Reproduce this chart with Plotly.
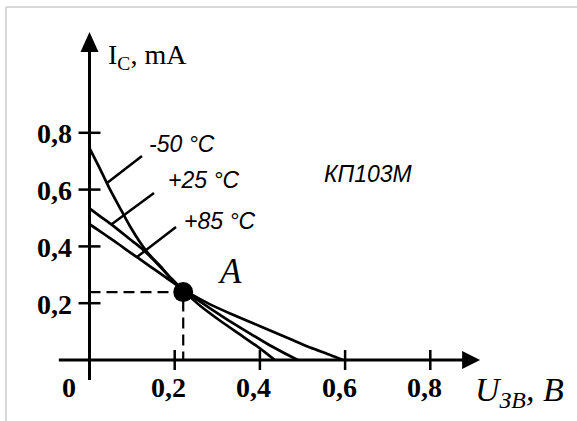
import plotly.graph_objects as go

# ---------------- data ----------------
# Transfer characteristics I_C(U_ZB) of KP103M at three temperatures
u_m50 = [0.0, 0.025, 0.048, 0.072, 0.095, 0.119, 0.142, 0.166, 0.189, 0.219, 0.259, 0.306, 0.353, 0.400, 0.435]
i_m50 = [0.746, 0.672, 0.601, 0.534, 0.471, 0.414, 0.368, 0.331, 0.291, 0.246, 0.192, 0.139, 0.090, 0.041, 0.0]

u_p25 = [0.0, 0.025, 0.048, 0.072, 0.095, 0.119, 0.142, 0.166, 0.189, 0.219, 0.248, 0.283, 0.330, 0.377, 0.424, 0.459, 0.489]
i_p25 = [0.534, 0.506, 0.481, 0.453, 0.425, 0.397, 0.365, 0.328, 0.292, 0.247, 0.217, 0.182, 0.136, 0.093, 0.051, 0.023, 0.0]

u_p85 = [0.0, 0.025, 0.048, 0.072, 0.095, 0.119, 0.142, 0.166, 0.189, 0.219, 0.248, 0.283, 0.330, 0.377, 0.424, 0.471, 0.518, 0.565, 0.595]
i_p85 = [0.478, 0.453, 0.429, 0.404, 0.379, 0.354, 0.330, 0.305, 0.280, 0.249, 0.224, 0.196, 0.164, 0.134, 0.104, 0.074, 0.044, 0.018, 0.0]

series_names = ["-50 °C", "+25 °C", "+85 °C"]

# thermostable point A
a_u = [0.220]
a_i = [0.239]

# axes ticks / labels
x_ticks = [0.2, 0.4, 0.6, 0.8]
x_tick_labels = ["0,2", "0,4", "0,6", "0,8"]
y_ticks = [0.2, 0.4, 0.6, 0.8]
y_tick_labels = ["0,2", "0,4", "0,6", "0,8"]
origin_label = "0"

# drawn axis extents (data units)
x_axis_span = [-0.072, 0.917]
y_axis_span = [-0.07, 1.155]

# ---------------- figure ----------------
W, H = 577, 421
ML, MR, MT, MB = 5, 22, 10, 11
PW, PH = W - ML - MR, H - MT - MB
SX, SY = 426.0, 284.0           # pixels per data unit
X0 = -(89.5 - ML) / SX
Y1 = (360.0 - MT) / SY
xr = [X0, X0 + PW / SX]
yr = [Y1 - PH / SY, Y1]

BLACK = "#000000"
fig = go.Figure()

curve_w = 2.7
for u, i, n in [(u_m50, i_m50, series_names[0]), (u_p25, i_p25, series_names[1]), (u_p85, i_p85, series_names[2])]:
    fig.add_trace(go.Scatter(x=u, y=i, mode="lines", name=n,
                             line=dict(color=BLACK, width=curve_w, shape="spline", smoothing=0.6),
                             showlegend=False, hoverinfo="skip"))

# dashed projection lines of A
fig.add_trace(go.Scatter(x=[0, a_u[0], a_u[0]], y=[a_i[0], a_i[0], 0], mode="lines",
                         line=dict(color=BLACK, width=2.2, dash="11px,6px"),
                         showlegend=False, hoverinfo="skip"))
fig.add_trace(go.Scatter(x=a_u, y=a_i, mode="markers",
                         marker=dict(color=BLACK, size=20, line=dict(width=0)),
                         showlegend=False, hoverinfo="skip"))

shapes = []
# axis lines
shapes.append(dict(type="line", xref="x", yref="y", x0=x_axis_span[0], x1=x_axis_span[1] - 0.01,
                   y0=0, y1=0, line=dict(color=BLACK, width=3)))
shapes.append(dict(type="line", xref="x", yref="y", x0=0, x1=0,
                   y0=y_axis_span[0], y1=y_axis_span[1] - 0.02, line=dict(color=BLACK, width=3)))
# arrow heads
shapes.append(dict(type="path", xref="x", yref="y", xsizemode="pixel", ysizemode="pixel",
                   xanchor=x_axis_span[1], yanchor=0, path="M0,0 L-18,9 L-18,-9 Z",
                   fillcolor=BLACK, line=dict(width=0)))
shapes.append(dict(type="path", xref="x", yref="y", xsizemode="pixel", ysizemode="pixel",
                   xanchor=0, yanchor=y_axis_span[1], path="M0,0 L-9,-20 L9,-20 Z",
                   fillcolor=BLACK, line=dict(width=0)))
# crossing ticks
for t in x_ticks:
    shapes.append(dict(type="line", xref="x", yref="y", ysizemode="pixel", yanchor=0,
                       x0=t, x1=t, y0=-10, y1=10, line=dict(color=BLACK, width=2.5)))
for t in y_ticks:
    shapes.append(dict(type="line", xref="x", yref="y", xsizemode="pixel", xanchor=0,
                       x0=-11, x1=11, y0=t, y1=t, line=dict(color=BLACK, width=2.5)))
# leader lines for the temperature labels
leaders = [((0.0411, 0.6232), (0.1232, 0.7183)),
           ((0.0528, 0.4789), (0.1514, 0.5880)),
           ((0.1115, 0.3627), (0.2031, 0.4683))]
for (xa, ya), (xb, yb) in leaders:
    shapes.append(dict(type="line", xref="x", yref="y", x0=xa, y0=ya, x1=xb, y1=yb,
                       line=dict(color=BLACK, width=2.5)))
# light grey frame (top and left edges)
GREY = "#cccccc"
fx = (6 - ML) / PW
fy = (MT + PH - 7) / PH
shapes.append(dict(type="line", xref="paper", yref="paper", x0=fx, x1=(W - ML) / PW + 0.01,
                   y0=fy, y1=fy, line=dict(color=GREY, width=1.5)))
shapes.append(dict(type="line", xref="paper", yref="paper", x0=fx, x1=fx,
                   y0=fy, y1=-(MB + 5) / PH, line=dict(color=GREY, width=1.5)))

SERIF = "Liberation Serif, Times New Roman, serif"
SANS = "Liberation Sans, Arial, sans-serif"
ann = []
tick_font = dict(family=SERIF, size=28, color=BLACK)
for t, lab in zip(x_ticks, x_tick_labels):
    ann.append(dict(x=t, y=0, xref="x", yref="y", text="<b>%s</b>" % lab, showarrow=False,
                    xanchor="center", yanchor="top", xshift=-6, yshift=-10, font=tick_font))
for t, lab in zip(y_ticks, y_tick_labels):
    ann.append(dict(x=0, y=t, xref="x", yref="y", text="<b>%s</b>" % lab, showarrow=False,
                    xanchor="right", yanchor="middle", xshift=-16, yshift=-1, font=tick_font))
ann.append(dict(x=0, y=0, xref="x", yref="y", text="<b>%s</b>" % origin_label, showarrow=False,
                xanchor="center", yanchor="top", xshift=-20.5, yshift=-10, font=tick_font))

# axis titles
ann.append(dict(x=0.0387, y=1.0704, xref="x", yref="y", text="I<sub>C</sub>, mA", showarrow=False,
                xanchor="left", yanchor="middle", font=dict(family=SERIF, size=28, color=BLACK)))
ann.append(dict(x=0.8995, y=-0.1109, xref="x", yref="y", text="<i>U<sub>ЗВ</sub>, B</i>", showarrow=False,
                xanchor="left", yanchor="middle", font=dict(family=SERIF, size=34, color=BLACK)))

# curve labels
lab_font = dict(family=SANS, size=23, color=BLACK)
for (x, y), n in zip([(0.2171, 0.7606), (0.2688, 0.6338), (0.3063, 0.4894)], series_names):
    ann.append(dict(x=x, y=y, xref="x", yref="y", text="<i>%s</i>" % n, showarrow=False,
                    xanchor="center", yanchor="middle", font=lab_font))
ann.append(dict(x=0.6538, y=0.6549, xref="x", yref="y", text="<i>КП103М</i>", showarrow=False,
                xanchor="center", yanchor="middle", font=dict(family=SANS, size=23, color=BLACK)))
ann.append(dict(x=0.3298, y=0.3099, xref="x", yref="y", text="<i>A</i>", showarrow=False,
                xanchor="center", yanchor="middle", font=dict(family=SERIF, size=35, color=BLACK)))

fig.update_layout(
    width=W, height=H, autosize=False,
    margin=dict(l=ML, r=MR, t=MT, b=MB, pad=0),
    paper_bgcolor="white", plot_bgcolor="white",
    xaxis=dict(range=xr, visible=False, fixedrange=True),
    yaxis=dict(range=yr, visible=False, fixedrange=True),
    shapes=shapes, annotations=ann, showlegend=False,
)

fig.write_html("out.html", config={"displayModeBar": False})
